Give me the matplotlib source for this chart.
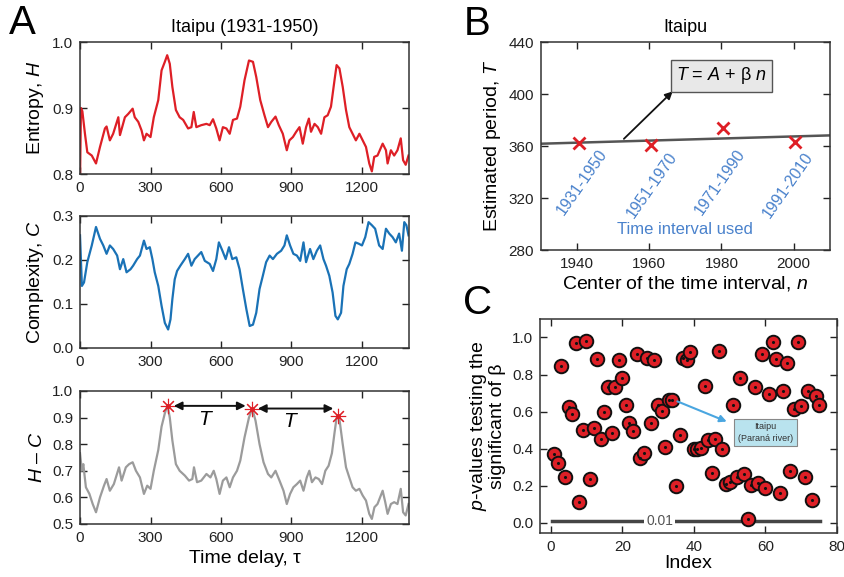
import numpy as np
import matplotlib
matplotlib.use("Agg")
import matplotlib.pyplot as plt

plt.rcParams['font.family'] = ['Liberation Sans', 'DejaVu Sans']
plt.rcParams['mathtext.fontset'] = 'custom'
plt.rcParams['mathtext.rm'] = 'Liberation Sans'
plt.rcParams['mathtext.it'] = 'Liberation Sans:italic'

# ---- panel A : entropy H, complexity C and H - C versus time delay ----
tau_H = [0, 4, 10, 21, 31, 50, 68, 85, 106, 113,
         127, 141, 163, 170, 191, 205, 224, 233, 248, 262,
         272, 283, 300, 314, 333, 347, 361, 371, 382, 393,
         408, 424, 439, 460, 474, 484, 495, 516, 538, 552,
         566, 580, 594, 608, 623, 637, 651, 668, 682, 700,
         719, 736, 750, 767, 785, 800, 814, 832, 846, 863,
         880, 891, 906, 920, 934, 948, 962, 974, 983, 998,
         1012, 1026, 1040, 1054, 1068, 1083, 1092, 1104, 1118, 1132,
         1146, 1160, 1174, 1189, 1203, 1217, 1231, 1242, 1252, 1266,
         1288, 1302, 1309, 1323, 1337, 1351, 1365, 1375, 1386, 1398]
H = [0.79, 0.90, 0.895, 0.861, 0.833, 0.828, 0.816, 0.841, 0.869, 0.872,
     0.851, 0.861, 0.886, 0.859, 0.886, 0.891, 0.899, 0.886, 0.879, 0.866,
     0.851, 0.861, 0.856, 0.886, 0.912, 0.957, 0.970, 0.980, 0.967, 0.932,
     0.897, 0.886, 0.882, 0.869, 0.871, 0.894, 0.871, 0.874, 0.876, 0.874,
     0.883, 0.869, 0.851, 0.871, 0.869, 0.861, 0.882, 0.884, 0.902, 0.942,
     0.972, 0.970, 0.947, 0.912, 0.889, 0.871, 0.879, 0.887, 0.874, 0.861,
     0.836, 0.851, 0.856, 0.864, 0.871, 0.846, 0.871, 0.884, 0.864, 0.876,
     0.871, 0.861, 0.886, 0.889, 0.902, 0.942, 0.965, 0.960, 0.932, 0.897,
     0.871, 0.861, 0.851, 0.861, 0.851, 0.841, 0.816, 0.804, 0.826, 0.828,
     0.846, 0.836, 0.816, 0.836, 0.828, 0.836, 0.854, 0.821, 0.814, 0.828]

tau_C = [0, 8, 17, 31, 50, 68, 85, 99, 113, 127,
         141, 158, 170, 184, 198, 215, 226, 243, 255, 272,
         283, 297, 308, 318, 333, 347, 361, 375, 385, 393,
         403, 413, 427, 446, 460, 474, 488, 502, 516, 531,
         552, 566, 580, 591, 606, 620, 634, 648, 665, 679,
         693, 708, 722, 736, 750, 764, 778, 792, 807, 821,
         838, 856, 870, 880, 894, 908, 923, 937, 951, 962,
         979, 993, 1008, 1022, 1036, 1047, 1061, 1075, 1087, 1097,
         1111, 1121, 1135, 1146, 1160, 1172, 1186, 1200, 1214, 1228,
         1242, 1256, 1273, 1288, 1302, 1316, 1330, 1344, 1358, 1370,
         1380, 1389, 1398]
C = [0.256, 0.141, 0.149, 0.195, 0.233, 0.275, 0.248, 0.233, 0.214, 0.233,
     0.225, 0.210, 0.179, 0.202, 0.172, 0.179, 0.187, 0.202, 0.210, 0.244,
     0.225, 0.229, 0.202, 0.172, 0.141, 0.096, 0.057, 0.042, 0.065, 0.111,
     0.156, 0.175, 0.187, 0.202, 0.214, 0.187, 0.202, 0.210, 0.218, 0.198,
     0.191, 0.175, 0.202, 0.240, 0.221, 0.202, 0.229, 0.202, 0.206, 0.179,
     0.134, 0.088, 0.050, 0.053, 0.080, 0.134, 0.164, 0.195, 0.210, 0.202,
     0.214, 0.221, 0.233, 0.256, 0.233, 0.214, 0.210, 0.198, 0.240, 0.195,
     0.225, 0.202, 0.221, 0.233, 0.202, 0.187, 0.164, 0.126, 0.073, 0.065,
     0.080, 0.141, 0.179, 0.191, 0.214, 0.240, 0.237, 0.233, 0.252, 0.286,
     0.279, 0.271, 0.233, 0.225, 0.271, 0.260, 0.252, 0.240, 0.260, 0.221,
     0.286, 0.279, 0.256]

tau_HC = [0, 8, 14, 25, 40, 54, 68, 85, 102, 113,
          127, 144, 166, 177, 195, 209, 224, 238, 255, 272,
          286, 300, 314, 333, 347, 361, 372, 382, 393, 408,
          424, 446, 464, 478, 485, 498, 516, 538, 555, 569,
          580, 594, 608, 623, 637, 651, 668, 682, 700, 719,
          733, 747, 764, 781, 800, 814, 832, 849, 866, 880,
          894, 908, 923, 937, 951, 965, 976, 987, 1002, 1016,
          1030, 1044, 1058, 1072, 1083, 1092, 1104, 1118, 1132, 1146,
          1160, 1174, 1189, 1203, 1217, 1231, 1242, 1253, 1266, 1288,
          1299, 1309, 1323, 1337, 1351, 1365, 1375, 1386, 1398]
HC = [0.766, 0.70, 0.725, 0.638, 0.613, 0.575, 0.544, 0.60, 0.644, 0.669,
      0.625, 0.65, 0.713, 0.663, 0.713, 0.725, 0.732, 0.70, 0.675, 0.613,
      0.644, 0.632, 0.70, 0.778, 0.866, 0.916, 0.947, 0.90, 0.814, 0.725,
      0.70, 0.682, 0.663, 0.669, 0.713, 0.657, 0.663, 0.688, 0.675, 0.70,
      0.669, 0.613, 0.663, 0.675, 0.638, 0.675, 0.70, 0.738, 0.825, 0.90,
      0.934, 0.888, 0.80, 0.732, 0.688, 0.675, 0.70, 0.663, 0.625, 0.575,
      0.613, 0.638, 0.65, 0.663, 0.625, 0.675, 0.70, 0.657, 0.675, 0.669,
      0.65, 0.70, 0.719, 0.766, 0.842, 0.90, 0.894, 0.80, 0.713, 0.675,
      0.638, 0.625, 0.632, 0.607, 0.588, 0.538, 0.519, 0.563, 0.575, 0.625,
      0.582, 0.538, 0.575, 0.582, 0.575, 0.632, 0.544, 0.532, 0.575]

peak_tau = [375, 731, 1097]
peak_val = [0.944, 0.934, 0.905]

# ---- panel B : estimated period per 20-year window ----
centers = [1940.5, 1960.5, 1980.5, 2000.5]
periods = [362, 361, 374, 363]
intervals = ["1931-1950", "1951-1970", "1971-1990", "1991-2010"]

# ---- panel C : p-values for all series ----
index = list(range(1, 76))
pvals = [0.369, 0.324, 0.845, 0.248, 0.624, 0.585, 0.968, 0.113, 0.500, 0.982,
         0.234, 0.513, 0.883, 0.451, 0.597, 0.734, 0.486, 0.734, 0.876, 0.779,
         0.635, 0.536, 0.495, 0.910, 0.351, 0.374, 0.887, 0.536, 0.880, 0.638,
         0.603, 0.408, 0.665, 0.662, 0.201, 0.473, 0.887, 0.878, 0.919, 0.399,
         0.396, 0.405, 0.736, 0.446, 0.266, 0.451, 0.926, 0.399, 0.207, 0.221,
         0.638, 0.248, 0.779, 0.263, 0.020, 0.203, 0.732, 0.212, 0.910, 0.189,
         0.696, 0.978, 0.885, 0.162, 0.709, 0.863, 0.281, 0.615, 0.978, 0.631,
         0.248, 0.712, 0.122, 0.682, 0.635]

red = '#de1f26'
blue = '#1a72b6'
gray = '#9b9b9b'
txtblue = '#4a82cc'


def style(ax):
    ax.tick_params(direction='in', top=True, right=True, length=5, width=1,
                   labelsize=11, colors='#222222', pad=5)
    for s in ax.spines.values():
        s.set_linewidth(1.1)
        s.set_color('#333333')


fig = plt.figure(figsize=(8.45, 5.77), dpi=100)

# panel A
ax1 = fig.add_axes([0.0947, 0.6984, 0.3893, 0.2288])
ax2 = fig.add_axes([0.0947, 0.3969, 0.3893, 0.2288])
ax3 = fig.add_axes([0.0947, 0.0919, 0.3893, 0.2305])

ax1.plot(tau_H, H, color=red, lw=1.6)
ax1.set_ylim(0.8, 1.0)
ax1.set_yticks([0.8, 0.9, 1.0])
ax1.set_ylabel("Entropy, $H$", fontsize=14)
ax1.set_title("Itaipu (1931-1950)", fontsize=13, pad=7)

ax2.plot(tau_C, C, color=blue, lw=1.6)
ax2.set_ylim(0.0, 0.3)
ax2.set_yticks([0.0, 0.1, 0.2, 0.3])
ax2.set_ylabel("Complexity, $C$", fontsize=14)

ax3.plot(tau_HC, HC, color=gray, lw=1.6)
ax3.plot(peak_tau, peak_val, ls='none', marker=(8, 2, 0), ms=11, mew=0.8,
         color=red)
ax3.plot(peak_tau, peak_val, ls='none', marker='o', ms=2.5, color=red)
ax3.set_ylim(0.5, 1.0)
ax3.set_yticks([0.5, 0.6, 0.7, 0.8, 0.9, 1.0])
ax3.set_ylabel("$H$ – $C$", fontsize=14)
ax3.set_xlabel("Time delay, τ", fontsize=14)
arrow_kw = dict(arrowstyle='<|-|>', color='#111111', lw=1.4,
                mutation_scale=12, shrinkA=0, shrinkB=0)
ax3.annotate("", xy=(705, 0.944), xytext=(399, 0.944), arrowprops=arrow_kw)
ax3.annotate("", xy=(1078, 0.934), xytext=(757, 0.934), arrowprops=arrow_kw)
ax3.text(538, 0.893, "$T$", fontsize=15, ha='center', va='center')
ax3.text(896, 0.884, "$T$", fontsize=15, ha='center', va='center')

for ax in (ax1, ax2, ax3):
    ax.set_xlim(0, 1400)
    ax.set_xticks([0, 300, 600, 900, 1200])
    style(ax)

# panel B
axb = fig.add_axes([0.640, 0.5667, 0.342, 0.3605])
coef = np.polyfit(centers, periods, 1)
xfit = np.array([1930, 2010])
axb.plot(xfit, np.polyval(coef, xfit), color='#555555', lw=1.8)
axb.plot(centers, periods, ls='none', marker='x', ms=8, mew=2, color=red)
label_pos = [(1941.4, 332.5), (1960.7, 330), (1979.7, 332.5), (1998.4, 330)]
for lab, (lx, ly) in zip(intervals, label_pos):
    axb.text(lx, ly, lab, color=txtblue, fontsize=11.5, rotation=55,
             ha='center', va='center', rotation_mode='anchor')
axb.text(1970, 296, "Time interval used", color=txtblue, fontsize=12,
         ha='center', va='center')
axb.annotate("", xy=(1966.5, 402), xytext=(1953, 365.5),
             arrowprops=dict(arrowstyle='-|>', color='#111111', lw=1.3,
                             mutation_scale=11, shrinkA=0, shrinkB=0))
axb.text(1980, 414, "$T$ = $A$ + β $n$", fontsize=13, ha='center', va='center',
         bbox=dict(boxstyle='square,pad=0.3', fc='#e8e8e8', ec='#555555', lw=1))
axb.set_xlim(1930, 2010)
axb.set_ylim(280, 440)
axb.set_xticks([1940, 1960, 1980, 2000])
axb.set_yticks([280, 320, 360, 400, 440])
axb.set_xlabel("Center of the time interval, $n$", fontsize=14, labelpad=2)
axb.set_ylabel("Estimated period, $T$", fontsize=14)
axb.set_title("Itaipu", fontsize=13, pad=7)
style(axb)

# panel C
axc = fig.add_axes([0.639, 0.0763, 0.3515, 0.371])
axc.plot([0.5, 75.2], [0.01, 0.01], color='#454545', lw=2.5, zorder=1)
axc.text(30.5, 0.01, "0.01", fontsize=10, color='#555555', ha='center',
         va='center', zorder=2,
         bbox=dict(boxstyle='square,pad=0.15', fc='white', ec='none'))
axc.scatter(index, pvals, s=95, facecolor=red, edgecolor='#111111', lw=1.4,
            zorder=3)
axc.scatter(index, pvals, s=1.5, color='#111111', zorder=4)
axc.annotate("", xy=(49.2, 0.546), xytext=(35.4, 0.655),
             arrowprops=dict(arrowstyle='-|>', color='#4aa6e0', lw=1.5,
                             mutation_scale=10, shrinkA=0, shrinkB=0))
axc.text(60, 0.487, "Itaipu\n(Paraná river)", fontsize=6.5, ha='center',
         va='center', color='#333333', linespacing=1.3,
         bbox=dict(boxstyle='square,pad=0.4', fc='#b9e3ee', ec='#888888', lw=0.8))
axc.set_xlim(-3, 80)
axc.set_ylim(-0.055, 1.1)
axc.set_xticks([0, 20, 40, 60, 80])
axc.set_yticks([0.0, 0.2, 0.4, 0.6, 0.8, 1.0])
axc.set_xlabel("Index", fontsize=14, labelpad=1)
axc.set_ylabel("$p$-values testing the\nsignificant of β", fontsize=14,
               linespacing=1.0)
style(axc)

fig.text(0.027, 0.960, "A", fontsize=29, ha='center', va='center')
fig.text(0.565, 0.958, "B", fontsize=29, ha='center', va='center')
fig.text(0.565, 0.475, "C", fontsize=29, ha='center', va='center')

fig.savefig("out.png", dpi=100)
